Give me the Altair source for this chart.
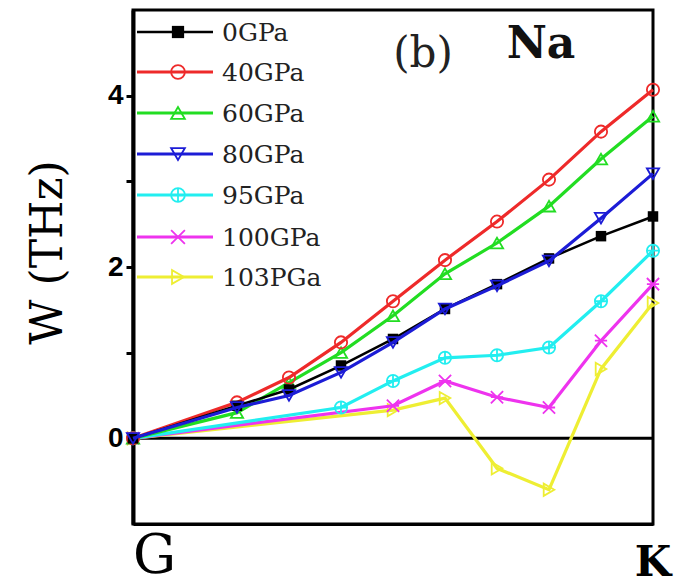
import altair as alt
import pandas as pd

# Wave-vector positions along G -> K (G = 0, K = 10)
k_main = [0, 2, 3, 4, 5, 6, 7, 8, 9, 10]
k_95 = [0, 4, 5, 6, 7, 8, 9, 10]
k_soft = [0, 5, 6, 7, 8, 9, 10]

# Phonon frequencies (THz) for each pressure
w_0 = [0, 0.38, 0.57, 0.85, 1.16, 1.51, 1.80, 2.10, 2.36, 2.59]
w_40 = [0, 0.42, 0.71, 1.12, 1.60, 2.08, 2.53, 3.02, 3.58, 4.07]
w_60 = [0, 0.30, 0.65, 1.00, 1.43, 1.92, 2.28, 2.71, 3.26, 3.76]
w_80 = [0, 0.36, 0.50, 0.77, 1.12, 1.51, 1.78, 2.07, 2.57, 3.09]
w_95 = [0, 0.36, 0.67, 0.94, 0.97, 1.06, 1.60, 2.19]
w_100 = [0, 0.38, 0.67, 0.48, 0.36, 1.14, 1.80]
w_103 = [0, 0.33, 0.47, -0.35, -0.60, 0.81, 1.58]

labels = ["0GPa", "40GPa", "60GPa", "80GPa", "95GPa", "100GPa", "103PGa"]
colors = ["#000000", "#ee2a2a", "#22dd22", "#1c1cd6", "#22eef0", "#ee33ee", "#eeee33"]

circle_plus = "M1,0A1,1 0 1,1 -1,0A1,1 0 1,1 1,0Z M0,-1L0,1M-1,0L1,0"
x_cross = "M-1,-1L1,1M-1,1L1,-1M-1,0L1,0"
shapes = ["square", "circle", "triangle-up", "triangle-down", circle_plus, x_cross, "triangle-right"]
filled = [True, False, False, False, False, False, False]
sizes = [110, 150, 150, 150, 150, 150, 150]

series = [
    (k_main, w_0), (k_main, w_40), (k_main, w_60), (k_main, w_80),
    (k_95, w_95), (k_soft, w_100), (k_soft, w_103),
]

W, H = 520, 514
x_scale = alt.Scale(domain=[0, 10], nice=False, zero=False)
y_scale = alt.Scale(domain=[-1, 5], nice=False, zero=False)

x_axis = alt.Axis(labels=False, ticks=False, title=None, grid=False,
                  domainColor="black", domainWidth=3)
y_axis = alt.Axis(values=[0, 1, 2, 3, 4], grid=False,
                  labelExpr="datum.value % 2 == 0 ? datum.label : ''",
                  labelFont="Liberation Sans", labelFontWeight="bold",
                  labelFontSize=28, labelColor="black", labelPadding=3,
                  tickSize=7, tickWidth=3, tickColor="black",
                  domainColor="black", domainWidth=4,
                  title="W (THz)", titleFont="DejaVu Serif", titleFontSize=44,
                  titleFontWeight="normal", titleColor="black",
                  titleX=-85, titleY=242, titleAngle=270,
                  titleAlign="center", titleBaseline="middle")

layers = []

# zero line
zero = alt.Chart(pd.DataFrame({"w": [0]})).mark_rule(
    color="black", strokeWidth=3
).encode(y=alt.Y("w:Q", scale=y_scale, axis=y_axis))
layers.append(zero)

# draw order: soft-mode branches underneath, ambient pressure on top
order = [6, 5, 4, 2, 1, 0, 3]
for i in order:
    ks, ws = series[i]
    df = pd.DataFrame({"k": ks, "w": ws})
    base = alt.Chart(df).encode(
        x=alt.X("k:Q", scale=x_scale, axis=x_axis),
        y=alt.Y("w:Q", scale=y_scale, axis=y_axis),
    )
    line = base.mark_line(color=colors[i], strokeWidth=3.2 if i else 2.5)
    pts = base.mark_point(
        shape=shapes[i], size=sizes[i], filled=filled[i],
        color=colors[i], strokeWidth=1.8, opacity=1,
        fill=colors[i] if filled[i] else "white",
        fillOpacity=1 if filled[i] else 0,
    )
    layers += [line, pts]

# legend rows drawn inside the plot, top-left
one = pd.DataFrame({"a": [0]})
row_y = [22, 62, 103, 144, 185, 227, 267]
for i, lab in enumerate(labels):
    ry = row_y[i]
    layers.append(alt.Chart(one).mark_rule(color=colors[i], strokeWidth=3.2 if i else 2.5).encode(
        x=alt.value(4), x2=alt.value(80), y=alt.value(ry)))
    layers.append(alt.Chart(one).mark_point(
        shape=shapes[i], size=sizes[i] + 40, filled=filled[i], color=colors[i],
        strokeWidth=1.8, opacity=1,
        fill=colors[i] if filled[i] else "white",
        fillOpacity=1 if filled[i] else 0,
    ).encode(x=alt.value(45), y=alt.value(ry)))
    layers.append(alt.Chart(one).mark_text(
        text=lab, font="DejaVu Serif", fontSize=25, color="#222222",
        align="left", baseline="middle"
    ).encode(x=alt.value(89), y=alt.value(ry + 1)))

# panel annotations
layers.append(alt.Chart(one).mark_text(
    text="(b)", font="DejaVu Serif", fontSize=42, color="#222222",
    align="center", baseline="middle"
).encode(x=alt.value(290), y=alt.value(44)))
layers.append(alt.Chart(one).mark_text(
    text="Na", font="DejaVu Serif", fontSize=44, fontWeight="bold", color="#111111",
    align="center", baseline="alphabetic"
).encode(x=alt.value(408), y=alt.value(48)))

# high-symmetry point labels under the axis
ends_g = pd.DataFrame({"k": [0], "lab": ["G"]})
ends_k = pd.DataFrame({"k": [10], "lab": ["K"]})
layers.append(alt.Chart(ends_g).mark_text(
    font="DejaVu Serif", fontSize=54, color="black", align="left",
    baseline="alphabetic", clip=False
).encode(x=alt.X("k:Q", scale=x_scale, axis=x_axis), y=alt.value(H + 49), text="lab:N"))
layers.append(alt.Chart(ends_k).mark_text(
    font="DejaVu Serif", fontSize=42, fontWeight="bold", color="black", align="center",
    baseline="alphabetic", clip=False
).encode(x=alt.X("k:Q", scale=x_scale, axis=x_axis), y=alt.value(H + 52), text="lab:N"))

chart = alt.layer(*layers).properties(
    width=W, height=H,
    autosize=alt.AutoSizeParams(type="none"),
    padding={"left": 133, "top": 10, "right": 27, "bottom": 61},
    background="white",
).configure_view(stroke="black", strokeWidth=3)

chart.save("out.html", embed_options={"renderer": "svg", "actions": False})
